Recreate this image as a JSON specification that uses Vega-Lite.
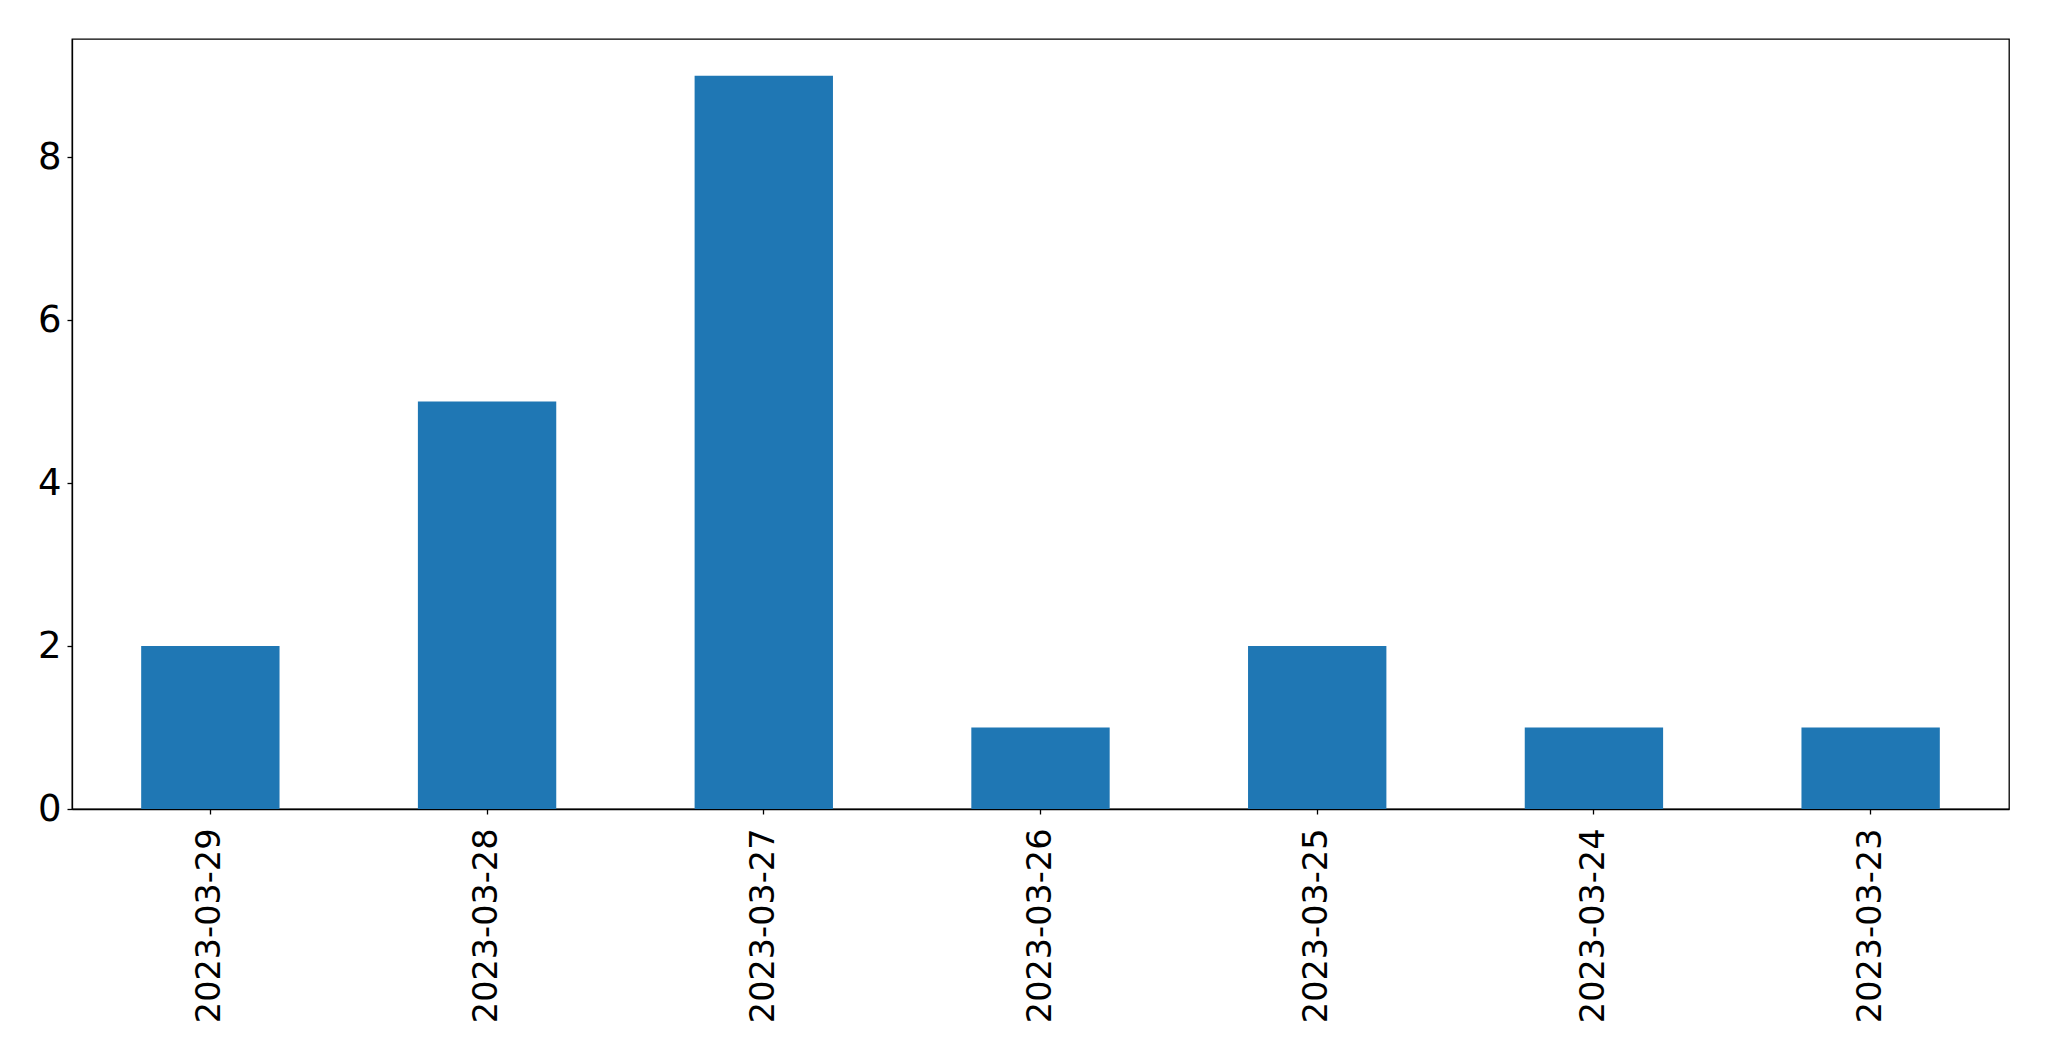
{
  "$schema": "https://vega.github.io/schema/vega-lite/v6.json",
  "autosize": {"type": "none"},
  "padding": {"left": 72, "top": 39, "right": 40, "bottom": 252},
  "width": 1937,
  "height": 770,
  "background": "white",
  "data": {"values": [
    {"date": "2023-03-29", "count": 2},
    {"date": "2023-03-28", "count": 5},
    {"date": "2023-03-27", "count": 9},
    {"date": "2023-03-26", "count": 1},
    {"date": "2023-03-25", "count": 2},
    {"date": "2023-03-24", "count": 1},
    {"date": "2023-03-23", "count": 1}
  ]},
  "mark": {"type": "bar", "color": "#1f77b4"},
  "encoding": {
    "x": {
      "field": "date", "type": "nominal", "sort": null,
      "scale": {"paddingInner": 0.5, "paddingOuter": 0.25},
      "axis": {"title": null, "labelAngle": -90, "labelAlign": "right", "labelBaseline": "middle", "labelPadding": 14, "labelLimit": 1000, "labelFontSize": 33.5, "labelFont": "DejaVu Sans", "labelColor": "black", "tickColor": "black", "tickSize": 5, "tickWidth": 1.3, "domainColor": "black", "domainWidth": 1.3, "grid": false}
    },
    "y": {
      "field": "count", "type": "quantitative",
      "scale": {"domain": [0, 9.45], "nice": false, "zero": true},
      "axis": {"title": null, "values": [0, 2, 4, 6, 8], "labelFontSize": 37, "labelFont": "DejaVu Sans", "labelColor": "black", "labelPadding": 6, "tickColor": "black", "tickSize": 5, "tickWidth": 1.3, "domainColor": "black", "domainWidth": 1.3, "grid": false}
    }
  },
  "config": {
    "view": {"stroke": "black", "strokeWidth": 1.3},
    "axis": {"labelFlush": false, "labelOverlap": false}
  }
}
